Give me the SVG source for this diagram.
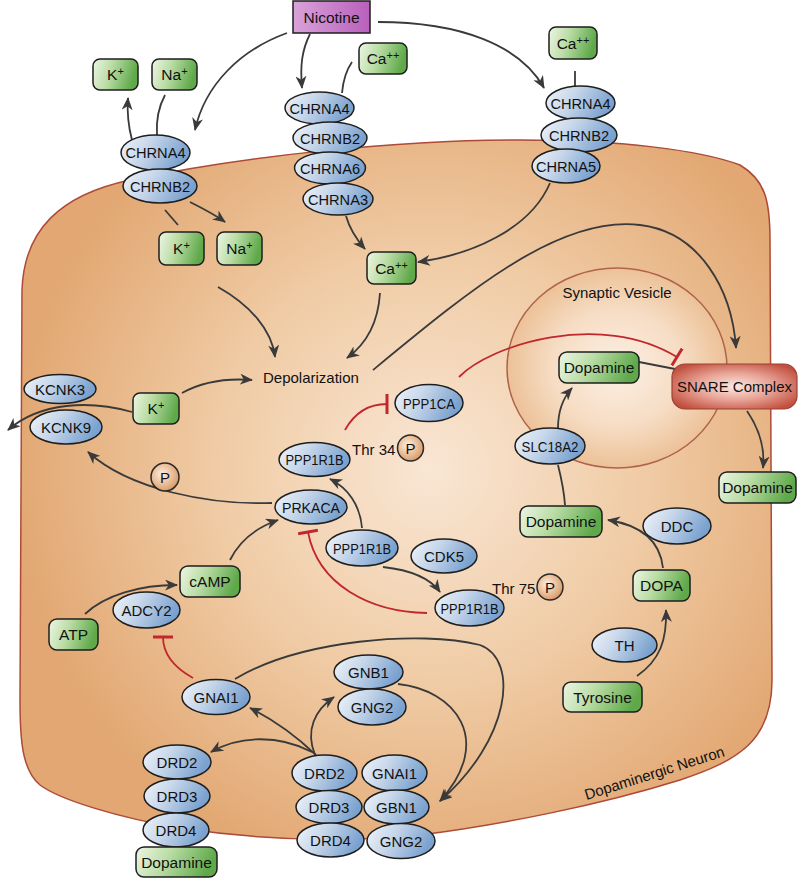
<svg xmlns="http://www.w3.org/2000/svg" width="800" height="880" viewBox="0 0 800 880">
<defs>
<radialGradient id="gCell" gradientUnits="userSpaceOnUse" cx="430" cy="470" r="420">
<stop offset="0" stop-color="#f9e6d4"/><stop offset="0.5" stop-color="#f0cca6"/><stop offset="1" stop-color="#e2a772"/>
</radialGradient>
<radialGradient id="gVes" cx="0.5" cy="0.5" r="0.5">
<stop offset="0" stop-color="#fcf0e5"/><stop offset="0.6" stop-color="#f6dcc3"/><stop offset="1" stop-color="#ecc197"/>
</radialGradient>
<linearGradient id="gBlue" x1="0" y1="0" x2="1" y2="0.3">
<stop offset="0" stop-color="#f1f5fa"/><stop offset="0.45" stop-color="#c6d6ea"/><stop offset="1" stop-color="#7ba2cf"/>
</linearGradient>
<linearGradient id="gGreen" x1="0" y1="0" x2="1" y2="0.2">
<stop offset="0" stop-color="#eef6e5"/><stop offset="0.45" stop-color="#b9dca4"/><stop offset="1" stop-color="#5fa94a"/>
</linearGradient>
<radialGradient id="gSnare" cx="0.5" cy="0.5" r="0.6">
<stop offset="0" stop-color="#fbe8e3"/><stop offset="0.5" stop-color="#e8a497"/><stop offset="1" stop-color="#c2503f"/>
</radialGradient>
<radialGradient id="gP" cx="0.4" cy="0.4" r="0.6">
<stop offset="0" stop-color="#fdf0e2"/><stop offset="1" stop-color="#dc9e6b"/>
</radialGradient>
<linearGradient id="gNic" x1="0" y1="0" x2="1" y2="0">
<stop offset="0" stop-color="#d9a2da"/><stop offset="1" stop-color="#b860bb"/>
</linearGradient>
<marker id="arr" markerUnits="userSpaceOnUse" viewBox="0 0 13 11" refX="12" refY="5.5" markerWidth="13" markerHeight="11" orient="auto">
<path d="M0,0 L13,5.5 L0,11 L3.8,5.5 Z" fill="#3a3a3a"/>
</marker>
<marker id="tbar" markerUnits="userSpaceOnUse" viewBox="0 0 4 20" refX="2" refY="10" markerWidth="4" markerHeight="20" orient="auto">
<rect x="0.5" y="0" width="3" height="20" fill="#c1272d"/>
</marker>
<style>
.blue{fill:url(#gBlue);stroke:#1e1e1e;stroke-width:1.5}
.green{fill:url(#gGreen);stroke:#1e1e1e;stroke-width:1.5}
.p{fill:url(#gP);stroke:#2a2a2a;stroke-width:1.5}
.t{font-family:"Liberation Sans",Arial,sans-serif;font-size:15px;fill:#111;text-anchor:middle}
.tg{font-family:"Liberation Sans",Arial,sans-serif;font-size:15.5px;fill:#111;text-anchor:middle}
.tl{font-family:"Liberation Sans",Arial,sans-serif;font-size:15px;fill:#111}
.c{fill:none;stroke:#3a3a3a;stroke-width:1.8}
.ca{fill:none;stroke:#3a3a3a;stroke-width:1.8;marker-end:url(#arr)}
.r{fill:none;stroke:#c1272d;stroke-width:1.8;marker-end:url(#tbar)}
</style>
</defs>
<rect width="800" height="880" fill="#ffffff"/>
<g id="cell">
<path d="M 20,700 L 22,290 C 24,230 60,195 130,180 C 250,155 400,140 520,140 C 620,140 700,150 740,165 C 765,180 770,200 770,240 L 772,680 C 772,740 740,760 680,780 C 600,805 500,825 420,835 C 340,843 260,840 180,828 C 120,818 60,800 40,785 C 22,770 20,740 20,700 Z" fill="url(#gCell)" stroke="#ad4a38" stroke-width="1.5"/>
<text class="tl" font-size="16.8" text-anchor="middle" x="656" y="778" transform="rotate(-17.5 656 778)">Dopaminergic Neuron</text>
</g>
<g id="vesicle">
<ellipse cx="617" cy="368" rx="110" ry="100" fill="url(#gVes)" stroke="#b0634c" stroke-width="1.5"/>
<text class="tl" text-anchor="middle" x="617" y="298">Synaptic Vesicle</text>
</g>
<g id="connectors">
<path class="ca" d="M 287,33 C 240,50 205,85 195,130"/>
<path class="ca" d="M 310,34 C 302,50 300,65 302,88"/>
<path class="ca" d="M 378,22 C 460,22 520,45 544,88"/>
<path class="c" d="M 575,71 L 575,86"/>
<path class="c" d="M 352,62 C 345,72 343,82 342,93"/>
<path class="ca" d="M 132,140 C 128,125 127,112 128,98"/>
<path class="c" d="M 165,95 C 158,108 156,120 157,135"/>
<path class="ca" d="M 190,202 C 202,208 214,214 225,222"/>
<path class="c" d="M 165,210 L 178,225"/>
<path class="ca" d="M 218,287 C 250,305 272,330 275,357"/>
<path class="ca" d="M 380,293 C 378,325 365,345 347,358"/>
<path class="ca" d="M 346,216 C 350,230 357,240 365,249"/>
<path class="ca" d="M 550,183 C 530,230 470,255 418,262"/>
<path class="ca" d="M 373,370 C 470,290 560,215 640,225 C 700,232 732,290 736,348"/>
<path class="ca" d="M 182,393 C 200,383 225,378 252,380"/>
<path class="ca" d="M 132,412 C 90,400 40,402 8,430"/>
<path class="ca" d="M 272,503 C 210,505 130,490 88,452"/>
<path class="r" d="M 345,430 C 355,412 370,404 387,404"/>
<path class="r" d="M 459,377 C 490,345 600,310 677,357"/>
<path class="ca" d="M 362,528 C 360,505 348,488 330,479"/>
<path class="r" d="M 427,613 C 370,612 318,585 308,532"/>
<path class="ca" d="M 383,567 C 410,570 430,578 440,592"/>
<path class="ca" d="M 230,560 C 240,540 258,527 278,520"/>
<path class="ca" d="M 85,614 C 105,595 140,585 177,585"/>
<path class="r" d="M 193,678 C 175,668 163,655 163,637"/>
<path class="ca" d="M 235,679 C 300,640 420,630 480,645 C 520,660 510,740 440,801"/>
<path class="ca" d="M 398,684 C 455,690 495,740 440,801"/>
<path class="ca" d="M 316,755 C 295,735 270,718 250,708"/>
<path class="ca" d="M 312,752 C 280,735 240,735 211,752"/>
<path class="ca" d="M 315,755 C 305,730 315,710 334,697"/>
<path class="ca" d="M 637,676 C 660,660 667,640 666,610"/>
<path class="ca" d="M 663,568 C 660,540 640,525 608,520"/>
<path class="c" d="M 565,505 C 564,490 561,477 558,465"/>
<path class="ca" d="M 558,428 C 558,410 563,398 572,388"/>
<path class="c" d="M 639,362 L 675,369"/>
<path class="ca" d="M 747,411 C 760,430 765,448 763,468"/>
</g>
<g id="nicotine"><rect x="293" y="1" width="77" height="32" fill="url(#gNic)" stroke="#1e1e1e" stroke-width="1.5"/><text class="tg" font-size="16.5" x="331.5" y="23">Nicotine</text></g>
<g id="k-out"><rect class="green" x="93" y="59" width="45" height="31" rx="7"/><text class="tg" x="115.5" y="80">K<tspan dy="-5" font-size="11">+</tspan></text></g>
<g id="na-out"><rect class="green" x="152" y="59" width="45" height="31" rx="7"/><text class="tg" x="174.5" y="80">Na<tspan dy="-5" font-size="11">+</tspan></text></g>
<g id="ca-out1"><rect class="green" x="359" y="43" width="48" height="31" rx="7"/><text class="tg" x="383" y="64">Ca<tspan dy="-5" font-size="11">++</tspan></text></g>
<g id="ca-out2"><rect class="green" x="549" y="27" width="48" height="32" rx="7"/><text class="tg" x="573" y="48.5">Ca<tspan dy="-5" font-size="11">++</tspan></text></g>
<g id="chrna4-a"><ellipse class="blue" cx="155.5" cy="152.5" rx="34.5" ry="17.5"/><text class="t" x="155.5" y="158" textLength="60" lengthAdjust="spacingAndGlyphs">CHRNA4</text></g>
<g id="chrnb2-a"><ellipse class="blue" cx="160" cy="186" rx="37" ry="17"/><text class="t" x="160" y="191.5" textLength="60" lengthAdjust="spacingAndGlyphs">CHRNB2</text></g>
<g id="chrna4-b"><ellipse class="blue" cx="319.5" cy="108" rx="34.5" ry="16"/><text class="t" x="319.5" y="113.5" textLength="60" lengthAdjust="spacingAndGlyphs">CHRNA4</text></g>
<g id="chrnb2-b"><ellipse class="blue" cx="330" cy="138" rx="37" ry="16"/><text class="t" x="330" y="143.5" textLength="60" lengthAdjust="spacingAndGlyphs">CHRNB2</text></g>
<g id="chrna6"><ellipse class="blue" cx="330" cy="168" rx="35.5" ry="16"/><text class="t" x="330" y="173.5" textLength="60" lengthAdjust="spacingAndGlyphs">CHRNA6</text></g>
<g id="chrna3"><ellipse class="blue" cx="338" cy="199" rx="35" ry="16"/><text class="t" x="338" y="204.5" textLength="60" lengthAdjust="spacingAndGlyphs">CHRNA3</text></g>
<g id="chrna4-c"><ellipse class="blue" cx="580.5" cy="103" rx="34.5" ry="17"/><text class="t" x="580.5" y="108.5" textLength="60" lengthAdjust="spacingAndGlyphs">CHRNA4</text></g>
<g id="chrnb2-c"><ellipse class="blue" cx="579" cy="135" rx="38" ry="17"/><text class="t" x="579" y="140.5" textLength="60" lengthAdjust="spacingAndGlyphs">CHRNB2</text></g>
<g id="chrna5"><ellipse class="blue" cx="566" cy="166" rx="34" ry="17"/><text class="t" x="566" y="171.5" textLength="60" lengthAdjust="spacingAndGlyphs">CHRNA5</text></g>
<g id="k-in"><rect class="green" x="159" y="232" width="45" height="33" rx="7"/><text class="tg" x="181.5" y="254">K<tspan dy="-5" font-size="11">+</tspan></text></g>
<g id="na-in"><rect class="green" x="217" y="232" width="45" height="33" rx="7"/><text class="tg" x="239.5" y="254">Na<tspan dy="-5" font-size="11">+</tspan></text></g>
<g id="ca-in"><rect class="green" x="367" y="252" width="49" height="32" rx="7"/><text class="tg" x="391.5" y="273.5">Ca<tspan dy="-5" font-size="11">++</tspan></text></g>
<g id="depolarization"><text class="tl" font-size="15.5" x="263" y="383">Depolarization</text></g>
<g id="kcnk3"><ellipse class="blue" cx="60" cy="389" rx="36" ry="14.5"/><text class="t" x="60" y="394.5">KCNK3</text></g>
<g id="kcnk9"><ellipse class="blue" cx="66" cy="427" rx="36" ry="17"/><text class="t" x="66" y="432.5">KCNK9</text></g>
<g id="k-left"><rect class="green" x="133" y="393" width="46" height="31" rx="7"/><text class="tg" x="156" y="414">K<tspan dy="-5" font-size="11">+</tspan></text></g>
<g id="p1"><circle class="p" cx="165" cy="477" r="14"/><text class="t" x="165" y="482.5">P</text></g>
<g id="ppp1ca"><ellipse class="blue" cx="429" cy="403" rx="34" ry="18.5"/><text class="t" x="429" y="408.5" textLength="52" lengthAdjust="spacingAndGlyphs">PPP1CA</text></g>
<g id="ppp1r1b-a"><ellipse class="blue" cx="314.5" cy="459.5" rx="35.5" ry="17"/><text class="t" x="314.5" y="465" textLength="58" lengthAdjust="spacingAndGlyphs">PPP1R1B</text></g>
<g id="thr34"><text class="tl" font-size="14.5" x="352" y="455">Thr 34</text><circle class="p" cx="410.5" cy="448" r="13"/><text class="t" x="410.5" y="453.5">P</text></g>
<g id="prkaca"><ellipse class="blue" cx="311" cy="507" rx="36" ry="17"/><text class="t" x="311" y="512.5" textLength="58" lengthAdjust="spacingAndGlyphs">PRKACA</text></g>
<g id="ppp1r1b-b"><ellipse class="blue" cx="362" cy="548" rx="36" ry="18"/><text class="t" x="362" y="553.5" textLength="58" lengthAdjust="spacingAndGlyphs">PPP1R1B</text></g>
<g id="cdk5"><ellipse class="blue" cx="444" cy="556" rx="33" ry="17"/><text class="t" x="444" y="561.5">CDK5</text></g>
<g id="ppp1r1b-c"><ellipse class="blue" cx="469.5" cy="608" rx="34.5" ry="18"/><text class="t" x="469.5" y="613.5" textLength="58" lengthAdjust="spacingAndGlyphs">PPP1R1B</text></g>
<g id="thr75"><text class="tl" font-size="14.5" x="492" y="594">Thr 75</text><circle class="p" cx="550" cy="587" r="13"/><text class="t" x="550" y="592.5">P</text></g>
<g id="dopamine-ves"><rect class="green" x="559" y="352" width="80" height="31" rx="8"/><text class="tg" x="599" y="373">Dopamine</text></g>
<g id="snare"><rect x="672" y="364" width="125" height="45" rx="13" fill="url(#gSnare)" stroke="#9a4336" stroke-width="1.2"/><text class="tl" font-size="14.8" text-anchor="middle" x="734.5" y="392">SNARE Complex</text></g>
<g id="dopamine-out"><rect class="green" x="719" y="472" width="77" height="31" rx="8"/><text class="tg" x="757.5" y="493">Dopamine</text></g>
<g id="slc18a2"><ellipse class="blue" cx="550" cy="446" rx="35" ry="18"/><text class="t" x="550" y="451.5" textLength="57" lengthAdjust="spacingAndGlyphs">SLC18A2</text></g>
<g id="dopamine-mid"><rect class="green" x="520" y="506" width="82" height="31" rx="8"/><text class="tg" x="561" y="527">Dopamine</text></g>
<g id="ddc"><ellipse class="blue" cx="677" cy="526" rx="34" ry="18"/><text class="t" x="677" y="531.5">DDC</text></g>
<g id="dopa"><rect class="green" x="633" y="570" width="57" height="31" rx="8"/><text class="tg" x="661.5" y="591">DOPA</text></g>
<g id="th"><ellipse class="blue" cx="624.5" cy="645" rx="32.5" ry="17"/><text class="t" x="624.5" y="650.5">TH</text></g>
<g id="tyrosine"><rect class="green" x="563" y="682" width="79" height="30" rx="8"/><text class="tg" x="602.5" y="702.5">Tyrosine</text></g>
<g id="camp"><rect class="green" x="180" y="566" width="60" height="31" rx="8"/><text class="tg" x="210" y="587">cAMP</text></g>
<g id="adcy2"><ellipse class="blue" cx="146.5" cy="610" rx="33.5" ry="18"/><text class="t" x="146.5" y="615.5">ADCY2</text></g>
<g id="atp"><rect class="green" x="49" y="619" width="49" height="31" rx="8"/><text class="tg" x="73.5" y="640">ATP</text></g>
<g id="gnai1-a"><ellipse class="blue" cx="216" cy="697" rx="34" ry="17.5"/><text class="t" x="216" y="702.5">GNAI1</text></g>
<g id="gnb1"><ellipse class="blue" cx="368.5" cy="672" rx="34.5" ry="17"/><text class="t" x="368.5" y="677.5">GNB1</text></g>
<g id="gng2-a"><ellipse class="blue" cx="372" cy="707" rx="34" ry="18"/><text class="t" x="372" y="712.5">GNG2</text></g>
<g id="drd2-a"><ellipse class="blue" cx="177" cy="762" rx="34" ry="17"/><text class="t" x="177" y="767.5">DRD2</text></g>
<g id="drd3-a"><ellipse class="blue" cx="177" cy="796" rx="33" ry="17"/><text class="t" x="177" y="801.5">DRD3</text></g>
<g id="drd4-a"><ellipse class="blue" cx="176" cy="830" rx="33" ry="17"/><text class="t" x="176" y="835.5">DRD4</text></g>
<g id="dopamine-bot"><rect class="green" x="136" y="847" width="81" height="30" rx="8"/><text class="tg" x="176.5" y="867.5">Dopamine</text></g>
<g id="drd2-b"><ellipse class="blue" cx="324.5" cy="773" rx="32.5" ry="18"/><text class="t" x="324.5" y="778.5">DRD2</text></g>
<g id="drd3-b"><ellipse class="blue" cx="329" cy="807" rx="33" ry="16.5"/><text class="t" x="329" y="812.5">DRD3</text></g>
<g id="drd4-b"><ellipse class="blue" cx="330.5" cy="840" rx="33.5" ry="17"/><text class="t" x="330.5" y="845.5">DRD4</text></g>
<g id="gnai1-b"><ellipse class="blue" cx="394.5" cy="773" rx="32.5" ry="18"/><text class="t" x="394.5" y="778.5">GNAI1</text></g>
<g id="gbn1"><ellipse class="blue" cx="396.5" cy="807" rx="32.5" ry="17"/><text class="t" x="396.5" y="812.5">GBN1</text></g>
<g id="gng2-b"><ellipse class="blue" cx="401" cy="841" rx="34" ry="17.5"/><text class="t" x="401" y="846.5">GNG2</text></g>
</svg>
